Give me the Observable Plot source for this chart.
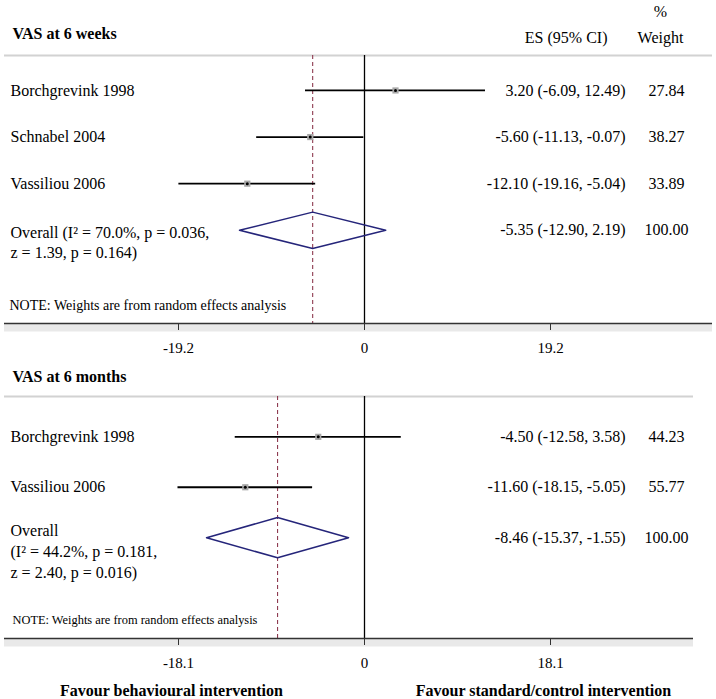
<!DOCTYPE html>
<html>
<head>
<meta charset="utf-8">
<script src="https://cdn.jsdelivr.net/npm/d3@7"></script>
<script src="https://cdn.jsdelivr.net/npm/@observablehq/plot@0.6"></script>
<style>
  html, body { margin: 0; padding: 0; background: #fff; }
  #chart { width: 716px; }
  #chart svg { display: block; }
</style>
</head>
<body>
<div id="chart"></div>
<script>
// ---------- Data: VAS at 6 weeks ----------
const weeksTitle = "VAS at 6 weeks";
const weeksStudies = ["Borchgrevink 1998", "Schnabel 2004", "Vassiliou 2006"];
const weeksES = [3.20, -5.60, -12.10];
const weeksLo = [-6.09, -11.13, -19.16];
const weeksHi = [12.49, -0.07, -5.04];
const weeksWeight = ["27.84", "38.27", "33.89"];
const weeksOverallES = -5.35, weeksOverallLo = -12.90, weeksOverallHi = 2.19;
const weeksOverallLabel = "Overall (I² = 70.0%, p = 0.036,\nz = 1.39, p = 0.164)";
const weeksTicks = [-19.2, 0, 19.2];

// ---------- Data: VAS at 6 months ----------
const monthsTitle = "VAS at 6 months";
const monthsStudies = ["Borchgrevink 1998", "Vassiliou 2006"];
const monthsES = [-4.50, -11.60];
const monthsLo = [-12.58, -18.15];
const monthsHi = [3.58, -5.05];
const monthsWeight = ["44.23", "55.77"];
const monthsOverallES = -8.46, monthsOverallLo = -15.37, monthsOverallHi = -1.55;
const monthsOverallLabel = "Overall\n(I² = 44.2%, p = 0.181,\nz = 2.40, p = 0.016)";
const monthsTicks = [-18.1, 0, 18.1];

const overallWeight = "100.00";
const noteText = "NOTE: Weights are from random effects analysis";
const favourLabels = ["Favour behavioural intervention", "Favour standard/control intervention"];
const colHeaders = ["%", "ES (95% CI)", "Weight"];

const FONT = "'Liberation Serif', 'Times New Roman', Times, serif";
const fmt = v => (v < 0 ? "-" : "") + Math.abs(v).toFixed(2);
const esText = (e, l, h) => `${fmt(e)} (${fmt(l)}, ${fmt(h)})`;

function panel(cfg) {
  const rows = cfg.studies.map((name, i) => ({
    row: i, name, es: cfg.es[i], lo: cfg.lo[i], hi: cfg.hi[i], weight: cfg.weight[i],
    esLabel: esText(cfg.es[i], cfg.lo[i], cfg.hi[i])
  }));
  const oRow = rows.length;
  const overall = [{
    row: oRow, es: cfg.oES, lo: cfg.oLo, hi: cfg.oHi, label: cfg.oLabel,
    esLabel: esText(cfg.oES, cfg.oLo, cfg.oHi), weight: overallWeight
  }];
  const h = cfg.diamondHalf;
  const diamond = [
    {x: cfg.oLo, y: oRow}, {x: cfg.oES, y: oRow - h}, {x: cfg.oHi, y: oRow},
    {x: cfg.oES, y: oRow + h}, {x: cfg.oLo, y: oRow}
  ];
  const yTop = cfg.yDomain[0], yBottom = cfg.yDomain[1];
  const lineInset = {insetLeft: 4, insetRight: cfg.insetRight};

  const marks = [
    Plot.ruleY([yBottom], {stroke: "#e9e9e9", strokeWidth: 8, dy: 4, ...lineInset}),
    Plot.ruleY([yTop], {stroke: "#d2d2d2", strokeWidth: 2, ...lineInset}),
    Plot.ruleX([0], {stroke: "#000", strokeWidth: 1.3}),
    Plot.ruleX([cfg.oES], {stroke: "#8e3a50", strokeWidth: 1.1, strokeDasharray: "4,3"}),
    Plot.ruleY(rows, {y: "row", x1: "lo", x2: "hi", stroke: "#000", strokeWidth: 1.8}),
    Plot.dot(rows, {x: "es", y: "row", symbol: "square", r: 3.5, fill: "#a8a8a8", stroke: "none"}),
    Plot.dot(rows, {x: "es", y: "row", r: 1.5, fill: "#000", stroke: "none"}),
    Plot.line(diamond, {x: "x", y: "y", stroke: "#25257a", strokeWidth: 1.5, curve: "linear"}),
    Plot.ruleY([yBottom], {stroke: "#333", strokeWidth: 1.5, ...lineInset}),
    Plot.axisX({anchor: "bottom", ticks: cfg.ticks, tickFormat: d => String(d), tickSize: 7,
      tickPadding: 12, fontSize: 15, label: null, stroke: "#333", fill: "#000"}),
    Plot.text([cfg.title], {frameAnchor: "top-left", dx: 12, dy: cfg.titleDy, lineAnchor: "middle",
      textAnchor: "start", fontWeight: "bold", fontSize: 16, fill: "#000"}),
    Plot.text(rows, {y: "row", text: "name", frameAnchor: "left", dx: 10, textAnchor: "start",
      fontSize: 16, fill: "#000"}),
    Plot.text(overall, {y: "row", text: "label", frameAnchor: "left", dx: 10, textAnchor: "start",
      lineAnchor: "middle", dy: cfg.overallDy, lineHeight: 1.31, fontSize: 16, fill: "#000"}),
    Plot.text(rows.concat(overall), {y: "row", text: "esLabel", frameAnchor: "right", dx: -91,
      textAnchor: "end", fontSize: 16, fill: "#000"}),
    Plot.text(rows.concat(overall), {y: "row", text: "weight", frameAnchor: "right", dx: -50,
      textAnchor: "middle", fontSize: 16, fill: "#000"}),
    Plot.text([noteText], {frameAnchor: "bottom-left", dx: cfg.noteDx, dy: -18, lineAnchor: "middle",
      textAnchor: "start", fontSize: cfg.noteSize, fill: "#000"})
  ];
  if (cfg.headers) {
    marks.push(
      Plot.text([colHeaders[0]], {frameAnchor: "top-right", dx: -56, dy: -44, lineAnchor: "middle",
        textAnchor: "middle", fontSize: 16, fill: "#000"}),
      Plot.text([colHeaders[1]], {frameAnchor: "top-right", dx: -109, dy: -17.5, lineAnchor: "middle",
        textAnchor: "end", fontSize: 16, fill: "#000"}),
      Plot.text([colHeaders[2]], {frameAnchor: "top-right", dx: -56, dy: -17.5, lineAnchor: "middle",
        textAnchor: "middle", fontSize: 16, fill: "#000"})
    );
  }
  if (cfg.favour) {
    const fav = [
      {x: cfg.ticks[0], t: favourLabels[0]},
      {x: cfg.ticks[cfg.ticks.length - 1], t: favourLabels[1]}
    ];
    marks.push(Plot.text(fav, {x: "x", text: "t", frameAnchor: "bottom", dy: 52, dx: -7,
      lineAnchor: "middle", textAnchor: "middle", fontWeight: "bold", fontSize: 16, fill: "#000"}));
  }

  return Plot.plot({
    width: 716,
    height: cfg.height,
    marginTop: cfg.marginTop,
    marginBottom: cfg.marginBottom,
    marginLeft: 0,
    marginRight: 0,
    style: {fontFamily: FONT, fontSize: "16px", background: "#fff", color: "#000"},
    x: {domain: [cfg.ticks[0], cfg.ticks[cfg.ticks.length - 1]], range: [178, 550], axis: null},
    y: {domain: cfg.yDomain, reverse: true, axis: null},
    marks
  });
}

const weeksPlot = panel({
  title: weeksTitle, studies: weeksStudies, es: weeksES, lo: weeksLo, hi: weeksHi, weight: weeksWeight,
  oES: weeksOverallES, oLo: weeksOverallLo, oHi: weeksOverallHi, oLabel: weeksOverallLabel,
  ticks: weeksTicks, height: 362, marginTop: 55, marginBottom: 39, yDomain: [-0.75, 5],
  diamondHalf: 0.39, insetRight: 4, titleDy: -22, overallDy: 11, noteDx: 9, noteSize: 14,
  headers: true, favour: false
});
const monthsPlot = panel({
  title: monthsTitle, studies: monthsStudies, es: monthsES, lo: monthsLo, hi: monthsHi, weight: monthsWeight,
  oES: monthsOverallES, oLo: monthsOverallLo, oHi: monthsOverallHi, oLabel: monthsOverallLabel,
  ticks: monthsTicks, height: 337, marginTop: 34, marginBottom: 61, yDomain: [-0.8, 4],
  diamondHalf: 0.4, insetRight: 23, titleDy: -20, overallDy: 13, noteDx: 12, noteSize: 12.4,
  headers: false, favour: true
});
document.getElementById("chart").append(weeksPlot, monthsPlot);
</script>
</body>
</html>
